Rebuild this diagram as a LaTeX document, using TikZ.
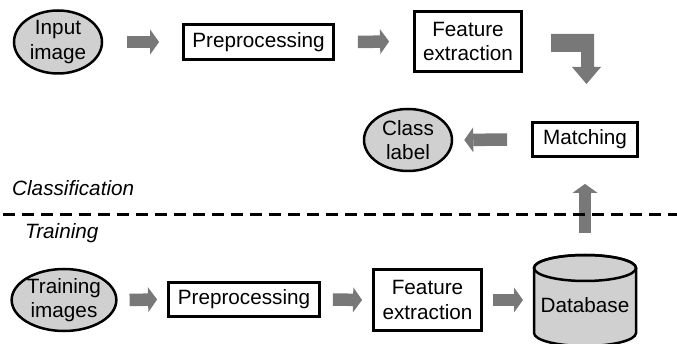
\documentclass[tikz,border=0pt]{standalone}
\usepackage{fontspec}
\setmainfont{Liberation Sans}
\usetikzlibrary{arrows.meta,shapes.geometric}
\definecolor{arrowgray}{RGB}{120,120,120}
\definecolor{fillgray}{RGB}{208,208,208}
\tikzset{
  txt/.style={font=\fontsize{20.7}{24.5}\selectfont, align=center, inner sep=0pt},
  oval/.style={txt, ellipse, draw, line width=2.5pt, fill=fillgray},
  stage/.style={txt, rectangle, draw, line width=2.8pt, fill=white},
  blk/.style={draw=arrowgray, line width=12.5pt,
    -{Triangle[width=25pt,length=9pt,line width=0pt]}},
  caption/.style={font=\fontsize{20.7}{24.5}\selectfont\itshape, anchor=west, inner sep=0pt},
}
\begin{document}
\begin{tikzpicture}[x=1pt,y=-1pt]
\useasboundingbox (0,0) rectangle (677,344);

% classification row
\node[oval, minimum width=88pt, minimum height=63pt] (in1) at (58,42) {Input\\image};
\node[stage, minimum width=150pt, minimum height=35pt] (pre1) at (258.5,42) {Preprocessing};
\node[stage, minimum width=107pt, minimum height=60pt] (fe1) at (468,41.5) {Feature\\extraction};
\node[stage, minimum width=105pt, minimum height=34pt] (mat) at (585,139.5) {Matching};
\node[oval, minimum width=88pt, minimum height=62pt] (cls) at (408,140) {Class\\label};

\draw[blk] ([xshift=24pt]in1.east) -- ([xshift=-23pt]pre1.west);
\draw[blk] ([xshift=23pt]pre1.east) -- ([xshift=-24pt]fe1.west);
\draw[blk] ([xshift=-24pt]mat.west) -- ([xshift=11pt]cls.east);

% bent arrow from feature extraction down to matching
\fill[arrowgray] (551,34) -- (594,34) -- (594,67) -- (601,67) -- (586.5,84)
  -- (572,67) -- (581,67) -- (581,52) -- (551,52) -- cycle;

% training row
\node[oval, minimum width=100pt, minimum height=62pt] (tr) at (64,300) {Training\\images};
\node[stage, minimum width=151pt, minimum height=34pt] (pre2) at (244,299.5) {Preprocessing};
\node[stage, minimum width=108pt, minimum height=61pt] (fe2) at (427.5,300) {Feature\\extraction};

% database cylinder
\coordinate (dbtop) at (585,255);
\coordinate (dbwest) at (534,300);
\path[fill=fillgray, draw, line width=2.5pt]
  (534,268) -- (534,333) arc[start angle=180, end angle=0, x radius=51, y radius=13]
  -- (636,268) arc[start angle=0, end angle=-180, x radius=51, y radius=13] -- cycle;
\draw[line width=2.5pt] (585,268) ellipse[x radius=51, y radius=13];
\node[txt] (db) at (585,305) {Database};

\draw[blk] ([xshift=12pt]tr.east) -- ([xshift=-10pt]pre2.west);
\draw[blk] ([xshift=12pt]pre2.east) -- ([xshift=-10pt]fe2.west);
\draw[blk] ([xshift=10pt]fe2.east) -- ([xshift=-11pt]dbwest);
\draw[blk] ([yshift=22pt]dbtop) -- ([yshift=-26pt]mat.south);

% separator between the two phases
\coordinate (dl) at (3,215);
\coordinate (dr) at (677,215);
\draw[line width=3pt, dash pattern=on 12pt off 7pt] (dl) -- (dr);
\node[caption] (cap1) at (12,188) {Classification};
\node[caption] (cap2) at (25,233) {Training};
\end{tikzpicture}
\end{document}
